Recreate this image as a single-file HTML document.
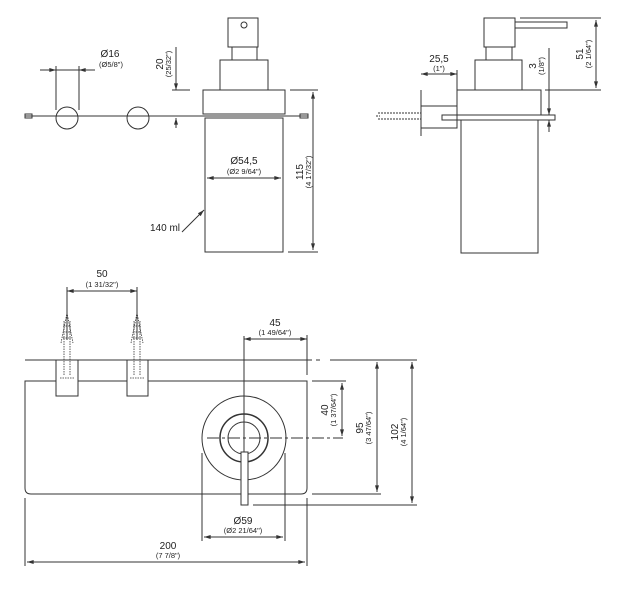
<!DOCTYPE html>
<html><head><meta charset="utf-8"><style>
html,body{margin:0;padding:0;background:#fff}
svg{display:block}
text{font-family:"Liberation Sans",sans-serif;fill:#222}
.m{font-size:10px}.s{font-size:7.5px}
</style></head><body>
<svg width="621" height="589" viewBox="0 0 621 589" xmlns="http://www.w3.org/2000/svg">
<defs>
<marker id="a" viewBox="0 0 10 6" refX="10" refY="3" markerWidth="8" markerHeight="4" orient="auto-start-reverse"><path d="M0,0L10,3L0,6z" fill="#333"/></marker>
</defs>
<g stroke="#333" stroke-width="1" fill="none">
<!-- TOP LEFT -->
<line x1="25" y1="116" x2="308" y2="116"/>
<rect x="25" y="114" width="7" height="4"/><rect x="300" y="114" width="8" height="4"/>
<circle cx="67" cy="118" r="11"/><circle cx="138" cy="118" r="11"/>
<line x1="56" y1="66" x2="56" y2="110"/><line x1="79" y1="66" x2="79" y2="110"/>
<line x1="40" y1="70" x2="56" y2="70" marker-end="url(#a)"/><line x1="95" y1="70" x2="79" y2="70" marker-end="url(#a)"/>
<line x1="79" y1="70" x2="56" y2="70"/>
<line x1="176" y1="47" x2="176" y2="90" marker-end="url(#a)"/><line x1="176" y1="128" x2="176" y2="118" marker-end="url(#a)"/>
<line x1="172" y1="90" x2="190" y2="90"/>
<rect x="228" y="18" width="30" height="29"/><circle cx="244" cy="25" r="3"/>
<rect x="232" y="47" width="25" height="13"/>
<rect x="220" y="60" width="48" height="30"/>
<rect x="203" y="90" width="82" height="24"/>
<rect x="205" y="118" width="78" height="134"/>
<line x1="207" y1="178" x2="281" y2="178" marker-start="url(#a)" marker-end="url(#a)"/>
<line x1="290" y1="90" x2="318" y2="90"/><line x1="288" y1="252" x2="318" y2="252"/>
<line x1="313" y1="92" x2="313" y2="250" marker-start="url(#a)" marker-end="url(#a)"/>
<line x1="182" y1="232" x2="204" y2="210" marker-end="url(#a)"/>
<!-- TOP RIGHT -->
<rect x="484" y="18" width="31" height="29"/>
<rect x="515" y="22" width="52" height="6"/>
<rect x="486" y="47" width="26" height="13"/>
<rect x="475" y="60" width="47" height="30"/>
<rect x="457" y="90" width="84" height="25"/>
<rect x="442" y="115" width="113" height="5"/>
<rect x="461" y="120" width="77" height="133"/>
<line x1="421" y1="90" x2="421" y2="136"/>
<rect x="421" y="106" width="36" height="22"/>
<line x1="457" y1="70" x2="457" y2="90"/>
<line x1="421" y1="74" x2="457" y2="74" marker-start="url(#a)" marker-end="url(#a)"/>
<path d="M378,113h43M378,119h43M376,116h4" stroke-dasharray="2,1"/>
<line x1="520" y1="18" x2="601" y2="18"/><line x1="545" y1="90" x2="601" y2="90"/>
<line x1="596" y1="20" x2="596" y2="88" marker-start="url(#a)" marker-end="url(#a)"/>
<line x1="549" y1="48" x2="549" y2="115" marker-end="url(#a)"/><line x1="549" y1="132" x2="549" y2="120" marker-end="url(#a)"/>
<!-- BOTTOM -->
<line x1="25" y1="360" x2="312" y2="360"/><line x1="316" y1="360" x2="320" y2="360"/><line x1="330" y1="360" x2="417" y2="360"/>
<path d="M25,381H307V488Q307,494 301,494H31Q25,494 25,488Z"/>
<rect x="56" y="360" width="22" height="36" fill="#fff"/><rect x="127" y="360" width="21" height="36" fill="#fff"/>
<g stroke-width="0.8" stroke-dasharray="1.5,1">
<path d="M61,343L67,313L73,343M64,375V320M70,375V320M60,378H75M63,326H71M63,332H71M63,338H71"/>
<path d="M131,343L137,313L143,343M134,375V320M140,375V320M130,378H145M133,326H141M133,332H141M133,338H141"/>
</g>
<line x1="67" y1="287" x2="67" y2="340"/><line x1="137" y1="287" x2="137" y2="340"/>
<line x1="67" y1="291" x2="137" y2="291" marker-start="url(#a)" marker-end="url(#a)"/>
<circle cx="244" cy="438" r="42" fill="#fff"/>
<circle cx="244" cy="438" r="24" stroke-width="1.5"/>
<circle cx="244" cy="438" r="16"/>
<rect x="241" y="452" width="7" height="53" fill="#fff"/>
<line x1="244" y1="336" x2="244" y2="452"/>
<line x1="207" y1="438" x2="343" y2="438" stroke-dasharray="12,3,3,3"/>
<line x1="307" y1="335" x2="307" y2="375"/>
<line x1="244" y1="339" x2="307" y2="339" marker-end="url(#a)"/><line x1="307" y1="339" x2="244" y2="339" marker-end="url(#a)"/>
<line x1="312" y1="381" x2="346" y2="381"/>
<line x1="342" y1="383" x2="342" y2="436" marker-start="url(#a)" marker-end="url(#a)"/>
<line x1="312" y1="494" x2="381" y2="494"/>
<line x1="377" y1="362" x2="377" y2="492" marker-start="url(#a)" marker-end="url(#a)"/>
<line x1="253" y1="505" x2="417" y2="505"/>
<line x1="412" y1="362" x2="412" y2="503" marker-start="url(#a)" marker-end="url(#a)"/>
<line x1="202" y1="453" x2="202" y2="541"/><line x1="285" y1="453" x2="285" y2="541"/>
<line x1="204" y1="537" x2="283" y2="537" marker-start="url(#a)" marker-end="url(#a)"/>
<line x1="25" y1="498" x2="25" y2="566"/><line x1="307" y1="498" x2="307" y2="566"/>
<line x1="27" y1="562" x2="305" y2="562" marker-start="url(#a)" marker-end="url(#a)"/>
</g>
<!-- TEXT -->
<text class="m" x="110" y="57" text-anchor="middle">Ø16</text>
<text class="s" x="111" y="67" text-anchor="middle">(Ø5/8")</text>
<text class="m" transform="translate(163,64) rotate(-90)" text-anchor="middle">20</text>
<text class="s" transform="translate(171,64) rotate(-90)" text-anchor="middle">(25/32")</text>
<text class="m" x="244" y="164" text-anchor="middle">Ø54,5</text>
<text class="s" x="244" y="174" text-anchor="middle">(Ø2 9/64")</text>
<text class="m" transform="translate(303,172) rotate(-90)" text-anchor="middle">115</text>
<text class="s" transform="translate(311,172) rotate(-90)" text-anchor="middle">(4 17/32")</text>
<text class="m" x="150" y="231">140 ml</text>
<text class="m" x="439" y="62" text-anchor="middle">25,5</text>
<text class="s" x="439" y="71" text-anchor="middle">(1")</text>
<text class="m" transform="translate(536,66) rotate(-90)" text-anchor="middle">3</text>
<text class="s" transform="translate(544,66) rotate(-90)" text-anchor="middle">(1/8")</text>
<text class="m" transform="translate(583,54) rotate(-90)" text-anchor="middle">51</text>
<text class="s" transform="translate(591,54) rotate(-90)" text-anchor="middle">(2 1/64")</text>
<text class="m" x="102" y="277" text-anchor="middle">50</text>
<text class="s" x="102" y="287" text-anchor="middle">(1 31/32")</text>
<text class="m" x="275" y="326" text-anchor="middle">45</text>
<text class="s" x="275" y="335" text-anchor="middle">(1 49/64")</text>
<text class="m" transform="translate(328,410) rotate(-90)" text-anchor="middle">40</text>
<text class="s" transform="translate(336,410) rotate(-90)" text-anchor="middle">(1 37/64")</text>
<text class="m" transform="translate(363,428) rotate(-90)" text-anchor="middle">95</text>
<text class="s" transform="translate(371,428) rotate(-90)" text-anchor="middle">(3 47/64")</text>
<text class="m" transform="translate(398,432) rotate(-90)" text-anchor="middle">102</text>
<text class="s" transform="translate(406,432) rotate(-90)" text-anchor="middle">(4 1/64")</text>
<text class="m" x="243" y="524" text-anchor="middle">Ø59</text>
<text class="s" x="243" y="533" text-anchor="middle">(Ø2 21/64")</text>
<text class="m" x="168" y="549" text-anchor="middle">200</text>
<text class="s" x="168" y="558" text-anchor="middle">(7 7/8")</text>
</svg>
</body></html>
